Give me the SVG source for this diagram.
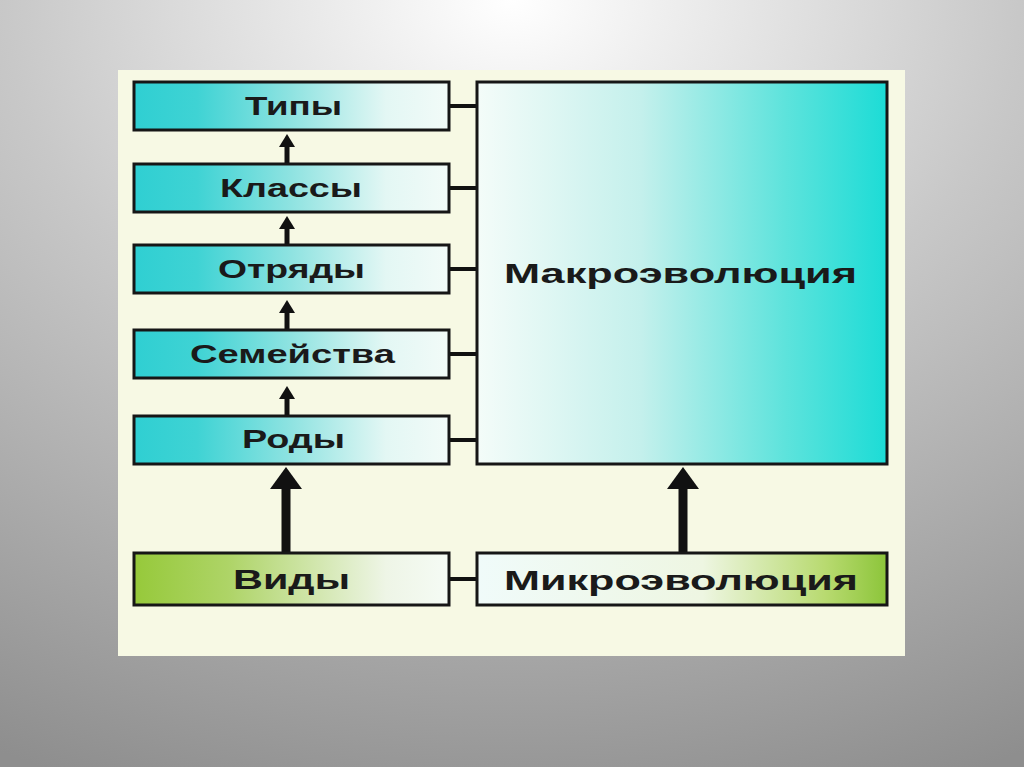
<svg xmlns="http://www.w3.org/2000/svg" width="1024" height="767" viewBox="0 0 1024 767">
<defs>
<radialGradient id="bg" cx="50%" cy="0%" r="110%" fx="50%" fy="0%">
<stop offset="0" stop-color="#ffffff"/>
<stop offset="0.45" stop-color="#c8c8c8"/>
<stop offset="1" stop-color="#8e8e8e"/>
</radialGradient>
<linearGradient id="cyanL" x1="0" y1="0" x2="1" y2="0">
<stop offset="0" stop-color="#2fcfd2"/>
<stop offset="0.2" stop-color="#3fd3d4"/>
<stop offset="0.5" stop-color="#8fe3e1"/>
<stop offset="0.8" stop-color="#e3f7f4"/>
<stop offset="1" stop-color="#f2fbf8"/>
</linearGradient>
<linearGradient id="cyanR" x1="0" y1="0" x2="1" y2="0">
<stop offset="0" stop-color="#f4fcf9"/>
<stop offset="0.4" stop-color="#c4f0ec"/>
<stop offset="0.75" stop-color="#5ee3dc"/>
<stop offset="1" stop-color="#1cdcd6"/>
</linearGradient>
<linearGradient id="greenL" x1="0" y1="0" x2="1" y2="0">
<stop offset="0" stop-color="#96c93a"/>
<stop offset="0.3" stop-color="#aed467"/>
<stop offset="0.8" stop-color="#eef5e6"/>
<stop offset="1" stop-color="#f5fbf5"/>
</linearGradient>
<linearGradient id="greenR" x1="0" y1="0" x2="1" y2="0">
<stop offset="0" stop-color="#f0fbfa"/>
<stop offset="0.55" stop-color="#eef6e2"/>
<stop offset="0.85" stop-color="#b8da70"/>
<stop offset="1" stop-color="#8cc53a"/>
</linearGradient>
<marker id="headS" markerUnits="userSpaceOnUse" markerWidth="14" markerHeight="16" refX="0" refY="8" orient="auto">
<path d="M0,0 L13,8 L0,16 z" fill="#111"/>
</marker>
<marker id="headB" markerUnits="userSpaceOnUse" markerWidth="22" markerHeight="32" refX="0" refY="16" orient="auto">
<path d="M0,0 L22,16 L0,32 z" fill="#111"/>
</marker>
</defs>
<style>
.box{stroke:#161616;stroke-width:3}
.lbl{font-family:"Liberation Sans",Arial,sans-serif;font-weight:bold;fill:#1a1a1a;text-anchor:start}
.s{font-size:25px}
.b{font-size:28px}
.conn{stroke:#111;fill:none}
</style>
<rect x="0" y="0" width="1024" height="767" fill="url(#bg)"/>
<rect x="118" y="70" width="787" height="586" fill="#f7f9e4"/>

<g id="connectors">
<line class="conn" stroke-width="5" x1="287" y1="163" x2="287" y2="147" marker-end="url(#headS)"/>
<line class="conn" stroke-width="5" x1="287" y1="245" x2="287" y2="229" marker-end="url(#headS)"/>
<line class="conn" stroke-width="5" x1="287" y1="330" x2="287" y2="313" marker-end="url(#headS)"/>
<line class="conn" stroke-width="5" x1="287" y1="415" x2="287" y2="399" marker-end="url(#headS)"/>
<line class="conn" stroke-width="9" x1="286" y1="552" x2="286" y2="489" marker-end="url(#headB)"/>
<line class="conn" stroke-width="9" x1="683" y1="552" x2="683" y2="489" marker-end="url(#headB)"/>
<line class="conn" stroke-width="4" x1="449" y1="106" x2="477" y2="106"/>
<line class="conn" stroke-width="4" x1="449" y1="188" x2="477" y2="188"/>
<line class="conn" stroke-width="4" x1="449" y1="269" x2="477" y2="269"/>
<line class="conn" stroke-width="4" x1="449" y1="354" x2="477" y2="354"/>
<line class="conn" stroke-width="4" x1="449" y1="440" x2="477" y2="440"/>
<line class="conn" stroke-width="4" x1="449" y1="579" x2="477" y2="579"/>
</g>

<g id="tipy">
<rect class="box" x="134" y="82" width="315" height="48" fill="url(#cyanL)"/>
<text class="lbl s" x="245" y="115" textLength="97" lengthAdjust="spacingAndGlyphs">Типы</text>
</g>
<g id="klassy">
<rect class="box" x="134" y="164" width="315" height="48" fill="url(#cyanL)"/>
<text class="lbl s" x="220" y="197" textLength="142" lengthAdjust="spacingAndGlyphs">Классы</text>
</g>
<g id="otryady">
<rect class="box" x="134" y="245" width="315" height="48" fill="url(#cyanL)"/>
<text class="lbl s" x="218" y="278" textLength="147" lengthAdjust="spacingAndGlyphs">Отряды</text>
</g>
<g id="semeystva">
<rect class="box" x="134" y="330" width="315" height="48" fill="url(#cyanL)"/>
<text class="lbl s" x="190" y="363" textLength="205" lengthAdjust="spacingAndGlyphs">Семейства</text>
</g>
<g id="rody">
<rect class="box" x="134" y="416" width="315" height="48" fill="url(#cyanL)"/>
<text class="lbl s" x="242" y="448" textLength="103" lengthAdjust="spacingAndGlyphs">Роды</text>
</g>
<g id="vidy">
<rect class="box" x="134" y="553" width="315" height="52" fill="url(#greenL)"/>
<text class="lbl b" x="233" y="589" textLength="117" lengthAdjust="spacingAndGlyphs">Виды</text>
</g>
<g id="makro">
<rect class="box" x="477" y="82" width="410" height="382" fill="url(#cyanR)"/>
<text class="lbl b" x="504" y="283" textLength="353" lengthAdjust="spacingAndGlyphs">Макроэволюция</text>
</g>
<g id="mikro">
<rect class="box" x="477" y="553" width="410" height="52" fill="url(#greenR)"/>
<text class="lbl b" x="504" y="590" textLength="354" lengthAdjust="spacingAndGlyphs">Микроэволюция</text>
</g>
</svg>
